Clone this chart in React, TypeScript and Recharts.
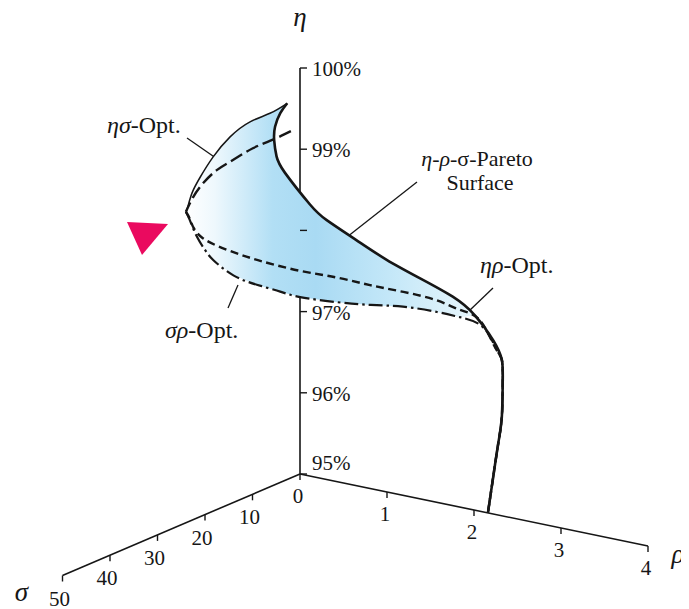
import React from "react";
import {
  ScatterChart,
  Scatter,
  XAxis,
  YAxis,
  ReferenceLine,
  ReferenceDot,
} from "recharts";

type P3 = [number, number, number]; // [ρ, σ, η %]

// ηρ-optimal front, from the ρ axis up to the η maximum
const etaRhoOpt: P3[] = [
  [2.16, 0, 95.0], [2.22, 0, 95.45], [2.28, 0, 95.89], [2.32, 0, 96.22],
  [2.33, 0, 96.64], [2.32, 0, 96.92], [2.22, 0, 97.14], [2.01, 0, 97.4],
  [1.81, 1, 97.61], [1.49, 2, 97.79], [1.16, 3, 97.97], [0.87, 4, 98.17],
  [0.58, 5, 98.38], [0.44, 6, 98.57], [0.21, 7, 98.93], [0.14, 7.5, 99.13],
  [0.14, 8, 99.34], [0.15, 8, 99.51], [0.21, 8, 99.69], [0.29, 8, 99.83],
];

// outer rim of the surface, η maximum to σ maximum
const surfaceRim: P3[] = [
  [0.29, 8, 99.83], [0.25, 10.9, 99.77], [0.25, 15.1, 99.77], [0.25, 19.3, 99.69],
  [0.25, 22.9, 99.53], [0.25, 25.6, 99.35], [0.25, 27.3, 99.2], [0.25, 28.2, 99.05],
  [0.25, 28.6, 99.0],
];

// ησ-optimal front
const etaSigmaOpt: P3[] = [
  [0.25, 6.5, 99.44], [0.25, 10.3, 99.43], [0.25, 14.5, 99.43], [0.25, 18.7, 99.39],
  [0.25, 22.1, 99.35], [0.25, 25.0, 99.26], [0.25, 27.1, 99.14], [0.25, 28.6, 99.0],
];

// intermediate cut across the surface
const midCut: P3[] = [
  [0.25, 28.6, 99.0], [0.27, 28, 98.88], [0.33, 26.5, 98.64], [0.53, 23, 98.41],
  [0.72, 21, 98.3], [0.98, 18, 98.17], [1.24, 15, 98.07], [1.46, 12, 97.95],
  [1.68, 9, 97.84], [1.9, 6, 97.71], [2.0, 3, 97.54], [2.12, 1, 97.39],
  [2.24, 0, 97.06],
];

// σρ-optimal front
const sigmaRhoOpt: P3[] = [
  [0.25, 28.6, 99.0], [0.26, 28, 98.89], [0.29, 27, 98.66], [0.33, 26, 98.48],
  [0.37, 25, 98.34], [0.49, 23, 98.13], [0.65, 21, 98.0], [0.81, 19, 97.9],
  [0.93, 17, 97.81], [1.19, 14, 97.73], [1.41, 11, 97.67], [1.62, 8, 97.62],
  [1.85, 5, 97.53], [2.0, 3, 97.45], [2.16, 1, 97.31], [2.26, 0, 97.03],
];

const rhoTicks = [0, 1, 2, 3, 4];
const sigmaTicks = [10, 20, 30, 40, 50];
const etaTicks = [95, 96, 97, 98, 99, 100];
const etaTickLabels = ["95%", "96%", "97%", "", "99%", "100%"];

// oblique projection of (ρ, σ, η) onto the drawing plane
const RHO_VEC = [87, -18];
const SIGMA_VEC = [-4.75, -2.03];
const ETA_UNIT = 81.2;
const ETA_BASE = 95;
const project = ([r, s, e]: P3) => ({
  x: r * RHO_VEC[0] + s * SIGMA_VEC[0],
  y: r * RHO_VEC[1] + s * SIGMA_VEC[1] + (e - ETA_BASE) * ETA_UNIT,
});

const W = 689;
const H = 609;
const X_DOMAIN: [number, number] = [-300, 389];
const Y_DOMAIN: [number, number] = [-135, 474];

const INK = "#161616";
const serif: React.CSSProperties = {
  fontFamily: "Liberation Serif, DejaVu Serif, Times New Roman, serif",
};

// the dashed fronts run down the ηρ front below the point where they meet it
const lowerTail = etaRhoOpt.slice(0, 6).reverse();

const surfaceOutline = [
  ...etaRhoOpt.slice(7),
  ...surfaceRim.slice(1),
  ...sigmaRhoOpt.slice(1, 14),
].map(project);

const noDot = () => <g />;

const origin = project([0, 0, ETA_BASE]);
const etaTop = project([0, 0, 100]);
const rhoEnd = project([4, 0, ETA_BASE]);
const sigmaEnd = project([0, 50, ETA_BASE]);

export default function App() {
  return (
    // pull the chart over the page margin so it covers the full frame
    <div style={{ width: W, height: H, margin: "-8px 0 0 -8px" }}>
      <ScatterChart width={W} height={H} margin={{ top: 0, right: 0, bottom: 0, left: 0 }}>
        <defs>
          <linearGradient id="paretoFill" x1="0" y1="0" x2="1" y2="0">
            <stop offset="0%" stopColor="#ffffff" />
            <stop offset="10%" stopColor="#eef8fd" />
            <stop offset="30%" stopColor="#b2dff5" />
            <stop offset="45%" stopColor="#a9daf3" />
            <stop offset="70%" stopColor="#c3e7f8" />
            <stop offset="100%" stopColor="#e8f6fc" />
          </linearGradient>
        </defs>
        <XAxis type="number" dataKey="x" domain={X_DOMAIN} hide allowDataOverflow />
        <YAxis type="number" dataKey="y" domain={Y_DOMAIN} hide allowDataOverflow />

        {/* axes */}
        <ReferenceLine segment={[origin, rhoEnd]} stroke={INK} strokeWidth={1.6} ifOverflow="visible" />
        <ReferenceLine segment={[origin, sigmaEnd]} stroke={INK} strokeWidth={1.6} ifOverflow="visible" />
        <ReferenceLine segment={[origin, etaTop]} stroke={INK} strokeWidth={1.6} ifOverflow="visible" />

        <Scatter
          data={surfaceOutline}
          line={{ fill: "url(#paretoFill)", stroke: "none" }}
          lineJointType="linearClosed"
          shape={noDot}
          isAnimationActive={false}
        />
        <Scatter
          data={surfaceRim.map(project)}
          line={{ stroke: INK, strokeWidth: 1.5 }}
          lineJointType="natural"
          shape={noDot}
          isAnimationActive={false}
        />
        <Scatter
          data={etaSigmaOpt.map(project)}
          line={{ stroke: INK, strokeWidth: 2.4, strokeDasharray: "13 5" }}
          lineJointType="natural"
          shape={noDot}
          isAnimationActive={false}
        />
        <Scatter
          data={[...midCut, ...lowerTail].map(project)}
          line={{ stroke: INK, strokeWidth: 2.4, strokeDasharray: "8 4.5" }}
          lineJointType="natural"
          shape={noDot}
          isAnimationActive={false}
        />
        <Scatter
          data={[...sigmaRhoOpt, ...lowerTail].map(project)}
          line={{ stroke: INK, strokeWidth: 2.2, strokeDasharray: "14 4 2.5 4" }}
          lineJointType="natural"
          shape={noDot}
          isAnimationActive={false}
        />
        <Scatter
          data={etaRhoOpt.map(project)}
          line={{ stroke: INK, strokeWidth: 2.6 }}
          lineJointType="natural"
          shape={noDot}
          isAnimationActive={false}
        />

        {/* ρ ticks */}
        {rhoTicks.map((v) => {
          const p = project([v, 0, ETA_BASE]);
          return (
            <ReferenceDot
              key={`rho-${v}`}
              x={p.x}
              y={p.y}
              ifOverflow="visible"
              shape={(s: any) => (
                <g>
                  <line x1={s.cx} y1={s.cy} x2={s.cx} y2={s.cy + 6} stroke={INK} strokeWidth={1.4} />
                  <text x={s.cx - 2} y={s.cy + 29} textAnchor="middle" style={serif} fontSize={21} fill={INK}>
                    {v}
                  </text>
                </g>
              )}
            />
          );
        })}

        {/* σ ticks */}
        {sigmaTicks.map((v) => {
          const p = project([0, v, ETA_BASE]);
          return (
            <ReferenceDot
              key={`sigma-${v}`}
              x={p.x}
              y={p.y}
              ifOverflow="visible"
              shape={(s: any) => (
                <g>
                  <line x1={s.cx} y1={s.cy} x2={s.cx} y2={s.cy + 6} stroke={INK} strokeWidth={1.4} />
                  <text x={s.cx - 3} y={s.cy + 30} textAnchor="middle" style={serif} fontSize={21} fill={INK}>
                    {v}
                  </text>
                </g>
              )}
            />
          );
        })}

        {/* η ticks */}
        {etaTicks.map((v, i) => {
          const p = project([0, 0, v]);
          const dy = v === ETA_BASE ? -4 : 8;
          return (
            <ReferenceDot
              key={`eta-${v}`}
              x={p.x}
              y={p.y}
              ifOverflow="visible"
              shape={(s: any) => (
                <g>
                  <line x1={s.cx} y1={s.cy} x2={s.cx + 7} y2={s.cy} stroke={INK} strokeWidth={1.4} />
                  {etaTickLabels[i] && (
                    <text x={s.cx + 12} y={s.cy + dy} style={serif} fontSize={21} fill={INK}>
                      {etaTickLabels[i]}
                    </text>
                  )}
                </g>
              )}
            />
          );
        })}

        {/* axis titles */}
        <ReferenceDot
          x={etaTop.x}
          y={etaTop.y}
          ifOverflow="visible"
          shape={(s: any) => (
            <text x={s.cx} y={s.cy - 42} textAnchor="middle" style={serif} fontStyle="italic" fontSize={27} fill={INK}>
              η
            </text>
          )}
        />
        <ReferenceDot
          x={rhoEnd.x}
          y={rhoEnd.y}
          ifOverflow="visible"
          shape={(s: any) => (
            <text x={s.cx + 30} y={s.cy + 17} textAnchor="middle" style={serif} fontStyle="italic" fontSize={27} fill={INK}>
              ρ
            </text>
          )}
        />
        <ReferenceDot
          x={sigmaEnd.x}
          y={sigmaEnd.y}
          ifOverflow="visible"
          shape={(s: any) => (
            <text x={s.cx - 41} y={s.cy + 25} textAnchor="middle" style={serif} fontStyle="italic" fontSize={27} fill={INK}>
              σ
            </text>
          )}
        />

        {/* leader lines */}
        <ReferenceLine segment={[{ x: -113, y: 336 }, { x: -77, y: 311 }]} stroke={INK} strokeWidth={1.3} ifOverflow="visible" />
        <ReferenceLine segment={[{ x: 117, y: 292 }, { x: 33, y: 226 }]} stroke={INK} strokeWidth={1.3} ifOverflow="visible" />
        <ReferenceLine segment={[{ x: 193, y: 186 }, { x: 169, y: 163 }]} stroke={INK} strokeWidth={1.3} ifOverflow="visible" />
        <ReferenceLine segment={[{ x: -62, y: 189 }, { x: -72, y: 166 }]} stroke={INK} strokeWidth={1.3} ifOverflow="visible" />

        {/* annotations */}
        <ReferenceDot
          x={-193}
          y={341}
          ifOverflow="visible"
          shape={(s: any) => (
            <text x={s.cx} y={s.cy} style={serif} fontSize={24} fill={INK}>
              <tspan fontStyle="italic">ησ</tspan>-Opt.
            </text>
          )}
        />
        <ReferenceDot
          x={-135}
          y={136}
          ifOverflow="visible"
          shape={(s: any) => (
            <text x={s.cx} y={s.cy} style={serif} fontSize={24} fill={INK}>
              <tspan fontStyle="italic">σρ</tspan>-Opt.
            </text>
          )}
        />
        <ReferenceDot
          x={180}
          y={201}
          ifOverflow="visible"
          shape={(s: any) => (
            <text x={s.cx} y={s.cy} style={serif} fontSize={24} fill={INK}>
              <tspan fontStyle="italic">ηρ</tspan>-Opt.
            </text>
          )}
        />
        <ReferenceDot
          x={177}
          y={308}
          ifOverflow="visible"
          shape={(s: any) => (
            <g>
              <text x={s.cx} y={s.cy} textAnchor="middle" style={serif} fontSize={22} fill={INK}>
                <tspan fontStyle="italic">η</tspan>-<tspan fontStyle="italic">ρ</tspan>-σ-Pareto
              </text>
              <text x={s.cx + 3} y={s.cy + 24} textAnchor="middle" style={serif} fontSize={22} fill={INK}>
                Surface
              </text>
            </g>
          )}
        />
        <ReferenceDot
          x={-154}
          y={240}
          ifOverflow="visible"
          shape={(s: any) => (
            <polygon
              points={`${s.cx - 19},${s.cy - 12} ${s.cx + 22},${s.cy - 10} ${s.cx - 4},${s.cy + 21}`}
              fill="#ea0a5f"
            />
          )}
        />
      </ScatterChart>
    </div>
  );
}
